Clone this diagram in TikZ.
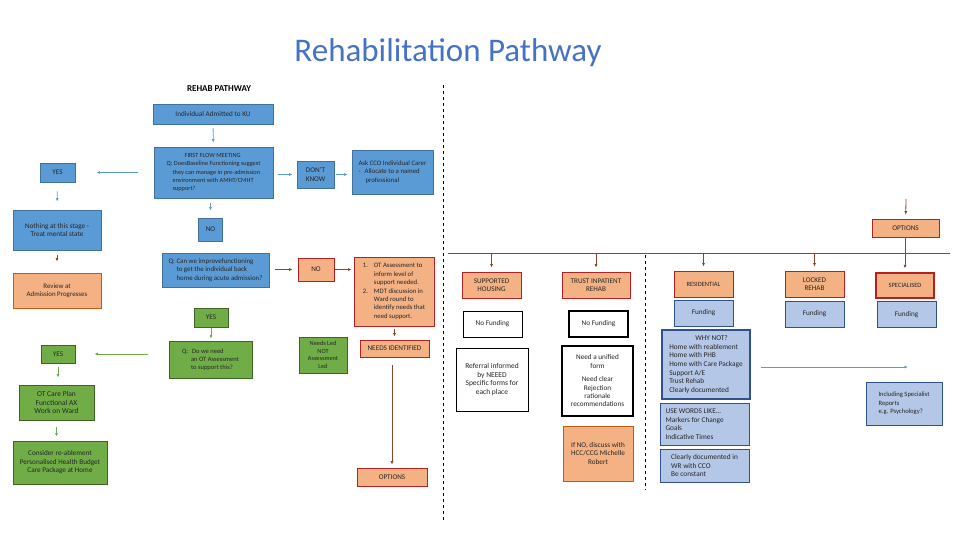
\documentclass[tikz,border=0pt]{standalone}
\usepackage{fontspec}
\setmainfont{Carlito}
\usepackage{tikz}
\usetikzlibrary{arrows.meta,positioning}
\definecolor{titleblue}{RGB}{68, 114, 196}
\definecolor{boxblue}{RGB}{91, 155, 213}
\definecolor{blueline}{RGB}{65, 113, 156}
\definecolor{boxorange}{RGB}{244, 177, 131}
\definecolor{darkred}{RGB}{178, 34, 34}
\definecolor{rustline}{RGB}{197, 90, 17}
\definecolor{boxgreen}{RGB}{112, 173, 71}
\definecolor{greenline}{RGB}{64, 100, 40}
\definecolor{lightblue}{RGB}{180, 199, 231}
\definecolor{navyline}{RGB}{47, 82, 143}
\definecolor{arrowbrown}{RGB}{132, 72, 40}
\definecolor{textgray}{RGB}{38, 38, 38}

\begin{document}
\begin{tikzpicture}[
        x=1pt, y=-1pt,
        sz/.style 2 args={minimum width=#1pt, minimum height=#2pt},
        box/.style={inner sep=1pt, align=center, font=\fontsize{7.2}{8.4}\selectfont, text=textgray},
        bluebox/.style={box, fill=boxblue, draw=blueline, thick},
        orangebox/.style={box, fill=boxorange, draw=darkred, thick},
        greenbox/.style={box, fill=boxgreen, draw=greenline, thick},
        lightbox/.style={box, fill=lightblue, draw=navyline, thick},
        whitebox/.style={box, fill=white, draw=black, thick},
        barrow/.style={draw=boxblue, thick, -{Latex[length=3.5pt, width=3pt]}},
        brarrow/.style={draw=arrowbrown, thick, -{Latex[length=3.5pt, width=3pt]}},
        garrow/.style={draw=boxgreen, thick, -{Latex[length=3.5pt, width=3pt]}}
    ]
        \useasboundingbox (0,0) rectangle (960,540);

        % Titles
        \node[font=\fontsize{33}{38}\selectfont, text=titleblue] (title) at (448,53) {Rehabilitation Pathway};
        \node[font=\fontsize{9}{10}\selectfont\bfseries, text=black] (rehab) at (219,89) {REHAB PATHWAY};

        % Dividers
        \draw[dashed, thick] (443,85) -- (443,520);
        \draw[dashed] (645,255) -- (645,490);

        % Left pathway
        \node[bluebox, sz={120}{20}] (admit) at (213,114) {Individual Admitted to KU};
        \node[bluebox, sz={119}{51}, align=left, font=\fontsize{6.3}{8.2}\selectfont] (flow) at (213.5,172.5) {\hspace*{18pt}FIRST FLOW MEETING\\Q: DoesBaseline Functioning suggest\\\hspace*{6pt}they can manage in pre-admission\\\hspace*{6pt}environment with AMHT/CMHT\\\hspace*{6pt}support?};
        \node[bluebox, sz={35}{19}] (yes1) at (57.5,172.5) {YES};
        \node[bluebox, sz={88}{40}] (nothing) at (57,230) {Nothing at this stage -\\Treat mental state};
        \node[bluebox, sz={37}{27}] (dontknow) at (315.5,174.5) {DON'T\\KNOW};
        \node[bluebox, sz={81}{44}, align=left, font=\fontsize{6.8}{8.4}\selectfont] (askcco) at (392.5,172) {Ask CCO Individual Carer\\-\hspace{4pt}Allocate to a named\\\hspace*{7pt}professional};
        \node[bluebox, sz={24}{23}] (no1) at (210.5,229.5) {NO};

        \node[orangebox, draw=rustline, sz={88}{35}, font=\fontsize{6.9}{8.4}\selectfont] (review) at (57,290.5) {Review at\\Admission Progresses};
        \node[bluebox, sz={107}{34}, align=left, font=\fontsize{6.9}{8.4}\selectfont] (improve) at (215.5,270) {Q: Can we improvefunctioning\\\hspace*{8pt}to get the individual back\\\hspace*{8pt}home during acute admission?};
        \node[orangebox, sz={36}{23}] (no2) at (316,269.5) {NO};
        \node[orangebox, sz={80}{69}, align=left, font=\fontsize{6.7}{8.4}\selectfont] (otlist) at (394,291.5) {1.\hspace{6pt}OT Assessment to\\\hspace*{11pt}inform level of\\\hspace*{11pt}support needed.\\2.\hspace{6pt}MDT discussion in\\\hspace*{11pt}Ward round to\\\hspace*{11pt}identify needs that\\\hspace*{11pt}need support.};

        \node[greenbox, sz={34}{19}] (yes2) at (211,317.5) {YES};
        \node[greenbox, sz={83}{37}, align=left, font=\fontsize{6.5}{8.2}\selectfont] (needot) at (210.5,359.5) {Q:\hspace{4pt}Do we need\\\hspace*{9pt}an OT Assessment\\\hspace*{9pt}to support this?};
        \node[greenbox, sz={34}{18}] (yes3) at (58,354) {YES};
        \node[greenbox, sz={48}{36}, font=\fontsize{6.3}{7.6}\selectfont] (needsled) at (323,355) {Needs Led\\NOT\\Assessment\\Led};
        \node[orangebox, sz={69}{17}] (needsid) at (394.5,348.5) {NEEDS IDENTIFIED};
        \node[greenbox, sz={75}{35}, font=\fontsize{7.5}{8.2}\selectfont] (careplan) at (56.5,402.5) {OT Care Plan\\Functional AX\\Work on Ward};
        \node[greenbox, sz={94}{43}] (reable) at (60,462.5) {Consider re-ablement\\Personalised Health Budget\\Care Package at Home};
        \node[orangebox, sz={70}{18}] (opts1) at (392,477) {OPTIONS};

        % Left pathway arrows
        \draw[barrow, shorten <=4pt, shorten >=4pt] (admit) -- (flow);
        \draw[barrow, shorten <=16pt, shorten >=21pt] (flow.west |- yes1) -- (yes1);
        \draw[barrow, shorten <=9pt, shorten >=8pt] (yes1.south) -- (nothing.north);
        \draw[barrow, shorten <=5pt, shorten >=4pt] (flow.east |- dontknow) -- (dontknow);
        \draw[barrow, shorten <=2pt, shorten >=4pt] (dontknow.east) -- (dontknow.east -| askcco.west);
        \draw[barrow, shorten <=5pt, shorten >=7pt] (flow.south -| no1) -- (no1);
        \draw[brarrow, shorten <=5pt, shorten >=11pt] (nothing) -- (review);
        \draw[brarrow, shorten <=6pt, shorten >=5pt] (improve.east |- no2) -- (no2);
        \draw[brarrow, shorten <=1pt, shorten >=2pt] (no2.east) -- (no2.east -| otlist.west);
        \draw[garrow, shorten <=1pt, shorten >=2pt] (yes2) -- (yes2 |- needot.north);
        \draw[garrow, shorten <=21pt, shorten >=19pt] (needot.west |- yes3) -- (yes3);
        \draw[garrow, shorten <=4pt, shorten >=7pt] (yes3) -- (yes3 |- careplan.north);
        \draw[garrow, shorten <=7pt, shorten >=4pt] (careplan) -- (careplan |- reable.north);
        \draw[brarrow, shorten <=3pt, shorten >=3pt] (otlist.south -| needsid) -- (needsid);
        \draw[brarrow, shorten <=8pt, shorten >=3pt] (needsid.south -| opts1) -- (opts1);

        % Options
        \coordinate (optin) at (906,199);
        \coordinate (busL) at (448,253);
        \coordinate (busR) at (950,253);
        \node[orangebox, sz={67}{18}] (opts2) at (905.5,228) {OPTIONS};
        \draw[brarrow, shorten >=4pt] (optin) -- (opts2);
        \draw[thick, draw=arrowbrown] (opts2) -- (opts2 |- busL);
        \draw[thick, draw=arrowbrown] (busL) -- (busR);

        \node[orangebox, sz={59}{26}] (housing) at (491.5,285) {SUPPORTED\\HOUSING};
        \node[orangebox, sz={68}{26}] (trust) at (596,285) {TRUST INPATIENT\\REHAB};
        \node[orangebox, sz={59}{26}, font=\fontsize{6.5}{8}\selectfont] (resid) at (703.5,284) {RESIDENTIAL};
        \node[orangebox, sz={59}{26}] (locked) at (814.5,284) {LOCKED\\REHAB};
        \node[orangebox, very thick, sz={58}{25}, font=\fontsize{6.5}{8}\selectfont] (special) at (905,285.5) {SPECIALISED};

        \draw[brarrow, shorten >=4pt] (housing |- busL) -- (housing);
        \draw[brarrow, shorten >=4pt] (trust |- busL) -- (trust);
        \draw[brarrow, shorten >=4pt] (resid |- busL) -- (resid);
        \draw[brarrow, shorten >=4pt] (locked |- busL) -- (locked);
        \draw[brarrow, shorten >=4pt] (special |- busL) -- (special);

        \node[whitebox, sz={59}{26}] (nofund1) at (492.5,324) {No Funding};
        \node[whitebox, very thick, sz={59}{26}] (nofund2) at (598.5,324) {No Funding};
        \node[lightbox, sz={59}{26}] (fund1) at (703.5,313) {Funding};
        \node[lightbox, sz={59}{26}] (fund2) at (814.5,314) {Funding};
        \node[lightbox, sz={59}{26}] (fund3) at (906.5,314.5) {Funding};

        \node[whitebox, sz={72}{63}, font=\fontsize{7.5}{8.6}\selectfont] (referral) at (492,379.5) {Referral informed\\by NEEED\\Specific forms for\\each place};
        \node[whitebox, very thick, sz={71}{70}] (unified) at (597.5,381) {Need a unified\\form\\[5pt]Need clear\\Rejection\\rationale\\recommendations};
        \node[orangebox, draw=rustline, sz={70}{55}] (ifno) at (598,453.5) {If NO, discuss with\\HCC/CCG Michelle\\Robert};

        \node[lightbox, very thick, sz={88}{69}, align=left, font=\fontsize{7.3}{8.6}\selectfont] (whynot) at (706,364.5) {\hspace*{26pt}WHY NOT?\\Home with reablement\\Home with PHB\\Home with Care Package\\Support A/E\\Trust Rehab\\Clearly documented};
        \node[lightbox, sz={89}{42}, align=left, font=\fontsize{7.3}{8.6}\selectfont] (usewords) at (704.5,424) {USE WORDS LIKE\ldots\\Markers for Change\\Goals\\Indicative Times\hspace*{30pt}};
        \node[lightbox, sz={89}{33}, align=left, font=\fontsize{7.3}{8.6}\selectfont] (clearly) at (704.5,465.5) {Clearly documented in\\WR with CCO\\Be constant\hspace*{30pt}};
        \node[lightbox, sz={76}{43}, align=left, font=\fontsize{6.6}{8.4}\selectfont] (including) at (904,403.5) {Including Specialist\\Reports\\e.g. Psychology?};

        \coordinate (ptr) at (908,367);
        \draw[barrow, shorten <=10pt] (whynot.east |- ptr) -- (ptr);
    \end{tikzpicture}
\end{document}
